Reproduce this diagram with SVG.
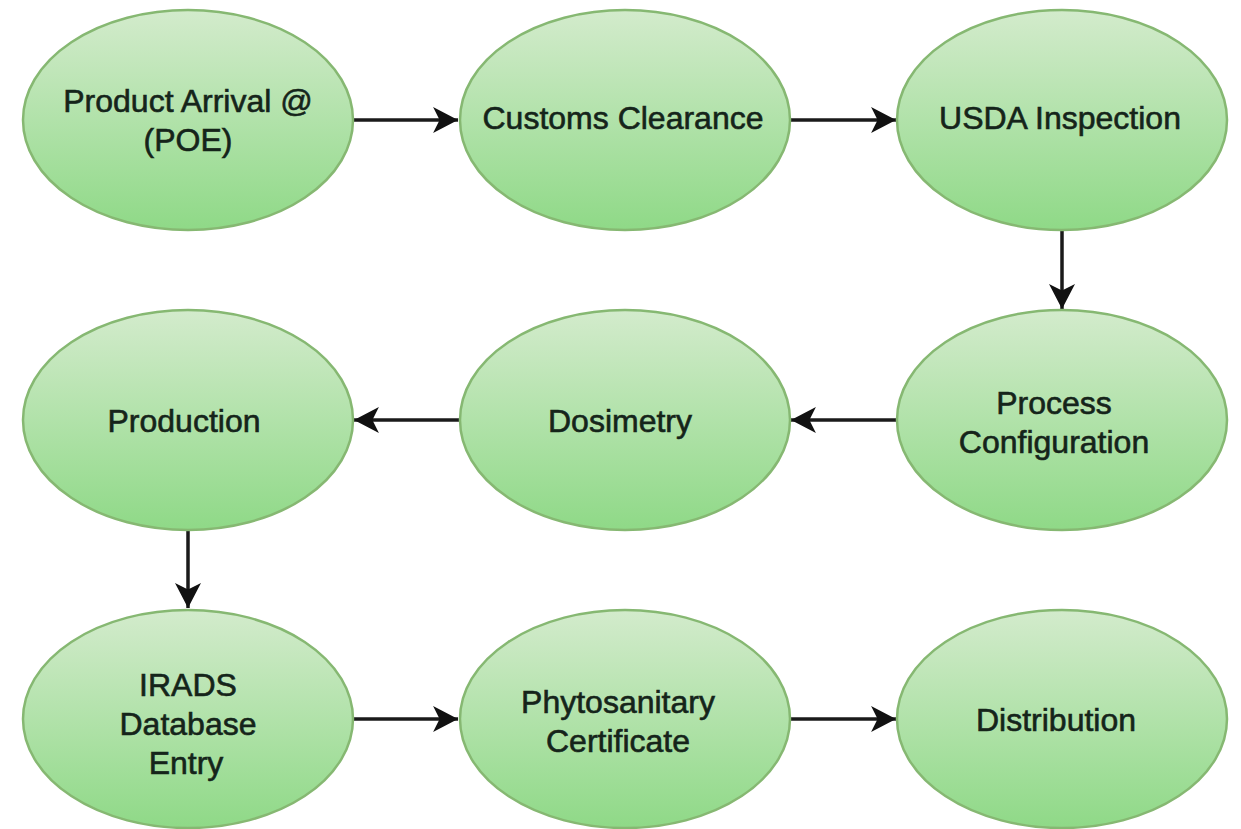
<svg xmlns="http://www.w3.org/2000/svg" width="1241" height="829" viewBox="0 0 1241 829">
<defs>
<linearGradient id="g" x1="0" y1="0" x2="0" y2="1">
<stop offset="0" stop-color="#d3ebcc"/>
<stop offset="1" stop-color="#8fd987"/>
</linearGradient>
<marker id="ah" markerUnits="userSpaceOnUse" markerWidth="26" markerHeight="26" refX="23" refY="12" orient="auto" viewBox="0 0 24 24">
<path d="M0,0 L23,12 L0,24 L6,12 Z" fill="#111"/>
</marker>
<style>
.n ellipse{fill:url(#g);stroke:#86b872;stroke-width:2.5}
.n text{font-family:"Liberation Sans",Arial,sans-serif;font-size:32px;fill:#15241a;stroke:#15241a;stroke-width:0.6;text-anchor:middle}
.c line{stroke:#1a1a1a;stroke-width:3.5;marker-end:url(#ah)}
</style>
</defs>
<rect width="1241" height="829" fill="#fff"/>
<g class="c" id="connectors">
<line x1="353" y1="120" x2="458" y2="120"/>
<line x1="790" y1="120" x2="896" y2="120"/>
<line x1="1062" y1="230" x2="1062" y2="309"/>
<line x1="897" y1="420" x2="791" y2="420"/>
<line x1="460" y1="420" x2="354" y2="420"/>
<line x1="188" y1="530" x2="188" y2="608"/>
<line x1="353" y1="719" x2="458" y2="719"/>
<line x1="790" y1="719" x2="896" y2="719"/>
</g>
<g class="n" id="n1"><ellipse cx="188" cy="120" rx="165" ry="110"/><text x="188" y="112">Product Arrival @</text><text x="188" y="151">(POE)</text></g>
<g class="n" id="n2"><ellipse cx="625" cy="120" rx="165" ry="110"/><text x="623" y="129">Customs Clearance</text></g>
<g class="n" id="n3"><ellipse cx="1062" cy="120" rx="165" ry="110"/><text x="1060" y="129">USDA Inspection</text></g>
<g class="n" id="n4"><ellipse cx="1062" cy="420" rx="165" ry="110"/><text x="1054" y="414">Process</text><text x="1054" y="453">Configuration</text></g>
<g class="n" id="n5"><ellipse cx="625" cy="420" rx="165" ry="110"/><text x="620" y="432">Dosimetry</text></g>
<g class="n" id="n6"><ellipse cx="188" cy="420" rx="165" ry="110"/><text x="184" y="432">Production</text></g>
<g class="n" id="n7"><ellipse cx="188" cy="719" rx="165" ry="109"/><text x="188" y="696">IRADS</text><text x="188" y="735">Database</text><text x="186" y="774">Entry</text></g>
<g class="n" id="n8"><ellipse cx="625" cy="719" rx="165" ry="109"/><text x="618" y="713">Phytosanitary</text><text x="618" y="752">Certificate</text></g>
<g class="n" id="n9"><ellipse cx="1062" cy="719" rx="165" ry="109"/><text x="1056" y="731">Distribution</text></g>
</svg>
